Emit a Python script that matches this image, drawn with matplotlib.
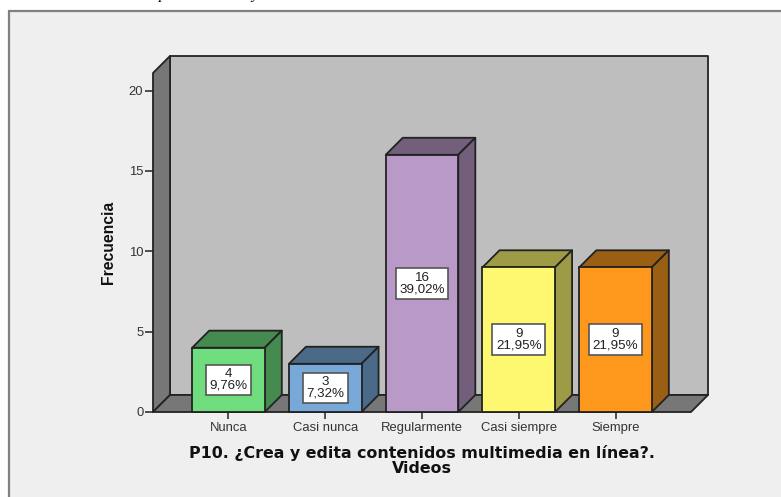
"""SPSS style 3D bar chart of P10 answers."""

import matplotlib

matplotlib.use("Agg")
import matplotlib.pyplot as plt
from matplotlib.patches import Polygon, Rectangle

categories = ["Nunca", "Casi nunca", "Regularmente", "Casi siempre", "Siempre"]
counts = [4, 3, 16, 9, 9]
percents = ["9,76%", "7,32%", "39,02%", "21,95%", "21,95%"]
front_colors = ["#6fdc7e", "#78a8d8", "#b899c8", "#fdf870", "#fd981c"]
shade_colors = ["#458a4f", "#4a6a88", "#735f7c", "#9e9b46", "#9a5f12"]
y_ticks = [0, 5, 10, 15, 20]

WIDTH, HEIGHT = 781, 497
BAR_W = 0.75
DEPTH_X = 0.176
DEPTH_Y = 1.06
X_MIN, X_MAX = -0.78, 4.78
Y_MAX = 21.09
EDGE = "#222222"

plt.rcParams["font.family"] = ["Liberation Sans", "DejaVu Sans"]

fig = plt.figure(figsize=(WIDTH / 100, HEIGHT / 100), dpi=100)
fig.patch.set_facecolor("white")

# chart frame runs off the right and bottom of the picture
fig.add_artist(Rectangle((9 / WIDTH, -0.05), 1.0, 1 - 10.5 / HEIGHT + 0.05,
                         transform=fig.transFigure, facecolor="#efefef",
                         edgecolor="#808080", linewidth=1.6, zorder=-1))

# bits of the cropped caption above the chart
fig.text(163 / WIDTH, 1 + 1.5 / HEIGHT, "p", family="Liberation Serif", style="italic",
         fontsize=11, ha="center", va="baseline", color="black")
fig.text(255 / WIDTH, 1 + 1.5 / HEIGHT, "y", family="Liberation Serif", style="italic",
         fontsize=11, ha="center", va="baseline", color="black")

ax = fig.add_axes([153 / WIDTH, 1 - 412 / HEIGHT, (691 - 153) / WIDTH, (412 - 73) / HEIGHT])
ax.patch.set_visible(False)
ax.set_xlim(X_MIN, X_MAX)
ax.set_ylim(0, Y_MAX)
for spine in ax.spines.values():
    spine.set_visible(False)


def add_poly(points, color, zorder):
    ax.add_patch(Polygon(points, closed=True, facecolor=color, edgecolor=EDGE,
                         linewidth=1.3, clip_on=False, zorder=zorder, joinstyle="round"))


# back wall, left wall and floor
add_poly([(X_MIN + DEPTH_X, DEPTH_Y), (X_MAX + DEPTH_X, DEPTH_Y),
          (X_MAX + DEPTH_X, Y_MAX + DEPTH_Y), (X_MIN + DEPTH_X, Y_MAX + DEPTH_Y)], "#bebebe", 1)
add_poly([(X_MIN, 0), (X_MIN + DEPTH_X, DEPTH_Y),
          (X_MIN + DEPTH_X, Y_MAX + DEPTH_Y), (X_MIN, Y_MAX)], "#777777", 1)
add_poly([(X_MIN, 0), (X_MAX, 0), (X_MAX + DEPTH_X, DEPTH_Y), (X_MIN + DEPTH_X, DEPTH_Y)],
         "#777777", 1)

positions = list(range(len(categories)))
ax.bar(positions, counts, width=BAR_W, color=front_colors, edgecolor=EDGE,
       linewidth=1.3, zorder=3, clip_on=False)

for pos, count, shade in zip(positions, counts, shade_colors):
    left, right = pos - BAR_W / 2, pos + BAR_W / 2
    add_poly([(left, count), (right, count), (right + DEPTH_X, count + DEPTH_Y),
              (left + DEPTH_X, count + DEPTH_Y)], shade, 2)
    add_poly([(right, 0), (right + DEPTH_X, DEPTH_Y), (right + DEPTH_X, count + DEPTH_Y),
              (right, count)], shade, 2)

for pos, count, pct in zip(positions, counts, percents):
    ax.text(pos, count / 2, f"{count}\n{pct}", ha="center", va="center", fontsize=9.6,
            color="#222222", linespacing=0.92, zorder=5,
            bbox=dict(boxstyle="square,pad=0.27", facecolor="white",
                      edgecolor="#555555", linewidth=1.2))

ax.set_axisbelow(True)
ax.set_xticks(positions)
ax.set_xticklabels(categories)
ax.set_yticks(y_ticks)
ax.tick_params(axis="x", length=5, width=1.1, color=EDGE, labelsize=9.4,
               labelcolor="#333333", pad=2)
ax.tick_params(axis="y", length=6, width=1.1, color=EDGE, labelsize=9.4,
               labelcolor="#333333", pad=1)

ax.set_xlabel("P10. ¿Crea y edita contenidos multimedia en línea?.\nVideos",
              family="DejaVu Sans", fontweight="bold", fontsize=11.4, labelpad=8,
              linespacing=1.0, color="#111111")
ax.set_ylabel("Frecuencia", fontweight="bold", fontsize=11.3, labelpad=9, color="#111111")

fig.savefig("out.png", dpi=100, facecolor=fig.get_facecolor())
